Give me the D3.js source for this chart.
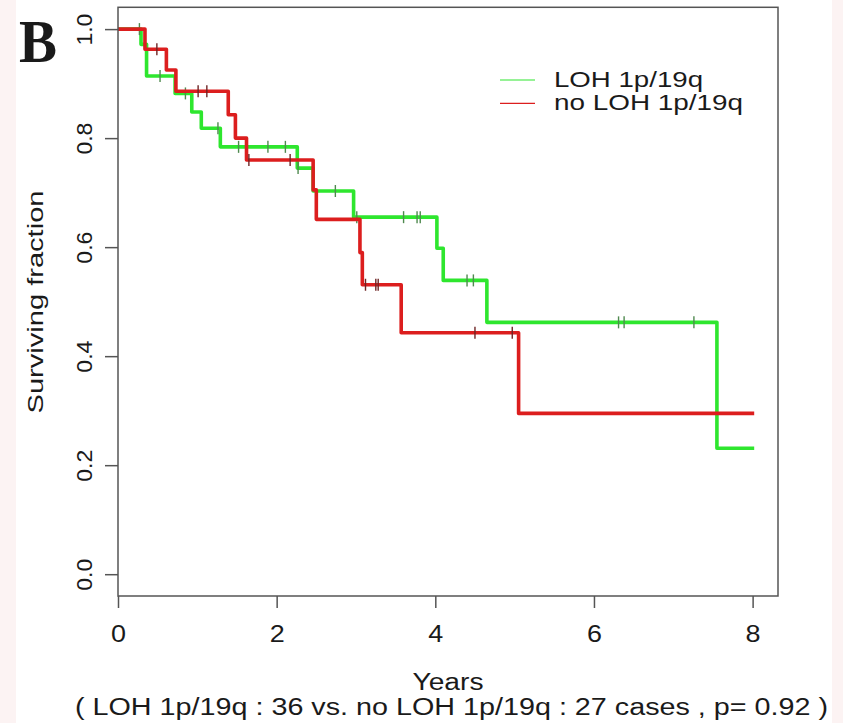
<!DOCTYPE html>
<html>
<head>
<meta charset="utf-8">
<script src="https://cdn.jsdelivr.net/npm/d3@7"></script>
<style>
  body { margin: 0; background: #fff; }
  svg { display: block; }
  text { font-family: "Liberation Sans", Arial, sans-serif; fill: #1a1a1a; }
</style>
</head>
<body>
<script>
// Kaplan-Meier steps
const lohTimes = [0.29, 0.36, 0.72, 0.93, 1.05, 1.29, 2.26, 2.46, 2.97, 4.02, 4.10, 4.65, 7.55]
const lohSurv = [0.972, 0.914, 0.882, 0.848, 0.818, 0.784, 0.745, 0.703, 0.655, 0.598, 0.539, 0.462, 0.231]
const lohCensor = [0.27, 0.53, 0.85, 1.26, 1.52, 1.89, 2.11, 2.27, 2.74, 3.01, 3.60, 3.77, 3.81, 4.40, 4.48, 6.31, 6.38, 7.26]

const noLohTimes = [0.34, 0.61, 0.73, 1.39, 1.48, 1.62, 2.46, 2.50, 3.05, 3.08, 3.57, 5.05]
const noLohSurv = [0.963, 0.925, 0.886, 0.843, 0.80, 0.76, 0.705, 0.651, 0.59, 0.531, 0.443, 0.295]
const noLohCensor = [0.49, 1.01, 1.12, 1.65, 2.17, 3.12, 3.25, 3.28, 4.50, 4.97]

const endTime = 8.02
const xTicks = [0, 2, 4, 6, 8]
const yTicks = [0, 0.2, 0.4, 0.6, 0.8, 1.0]
const legendLabels = ['LOH 1p/19q', 'no LOH 1p/19q']
const subtitle = '( LOH 1p/19q : 36 vs. no LOH 1p/19q : 27 cases , p= 0.92 )'

const W = 843, H = 723
const box = { left: 118, right: 778, top: 7.3, bottom: 596 }

const svg = d3.select('body').append('svg').attr('width', W).attr('height', H)

// faint pink edges of the scanned figure
svg.append('rect').attr('width', W).attr('height', H).attr('fill', '#fcf3f3')
svg.append('rect').attr('x', 16).attr('width', 816).attr('height', H).attr('fill', '#fff')

const x = d3.scaleLinear().domain([0, 8.32]).range([box.left, box.right])
const y = d3.scaleLinear().domain([-0.04, 1.04]).range([box.bottom, box.top])

function steps(times, surv) {
  const pts = [[0, 1]]
  times.forEach((t, i) => pts.push([t, surv[i]]))
  pts.push([endTime, surv[surv.length - 1]])
  return pts
}
function survAt(times, surv, t) {
  let s = 1
  times.forEach((tt, i) => { if (tt <= t) s = surv[i] })
  return s
}

const line = d3.line().x(d => x(d[0])).y(d => y(d[1])).curve(d3.curveStepAfter)

const series = [
  { times: lohTimes, surv: lohSurv, censor: lohCensor, color: '#2ee62e', tick: '#4f8a4f' },
  { times: noLohTimes, surv: noLohSurv, censor: noLohCensor, color: '#dc1e1e', tick: '#6e2424' }
]

series.forEach(s => {
  svg.append('path')
    .attr('d', line(steps(s.times, s.surv)))
    .attr('fill', 'none')
    .attr('stroke', s.color)
    .attr('stroke-width', 3.6)
    .attr('stroke-linejoin', 'round')
  svg.append('g').selectAll('line')
    .data(s.censor)
    .join('line')
    .attr('x1', d => x(d)).attr('x2', d => x(d))
    .attr('y1', d => y(survAt(s.times, s.surv, d)) - 6)
    .attr('y2', d => y(survAt(s.times, s.surv, d)) + 6)
    .attr('stroke', s.tick)
    .attr('stroke-width', 1.4)
})

// box
svg.append('rect')
  .attr('x', box.left).attr('y', box.top)
  .attr('width', box.right - box.left).attr('height', box.bottom - box.top)
  .attr('fill', 'none').attr('stroke', '#555').attr('stroke-width', 1.5)

// y axis
const yAxis = svg.append('g')
  .attr('transform', `translate(${box.left},0)`)
  .call(d3.axisLeft(y).tickValues(yTicks).tickSize(13).tickFormat(d3.format('.1f')))
yAxis.select('.domain').remove()
yAxis.selectAll('line').attr('stroke', '#555').attr('stroke-width', 1.5)
yAxis.selectAll('text')
  .attr('transform', 'rotate(-90)')
  .attr('x', 0).attr('y', -26).attr('dy', 0)
  .attr('text-anchor', 'middle')
  .attr('font-size', 22)
  .attr('textLength', 32).attr('lengthAdjust', 'spacingAndGlyphs')
  .style('font-family', '"Liberation Sans", Arial, sans-serif')
  .attr('fill', '#1a1a1a')

// x axis
const xAxis = svg.append('g')
  .attr('transform', `translate(0,${box.bottom})`)
  .call(d3.axisBottom(x).tickValues(xTicks).tickSize(12).tickFormat(d3.format('d')))
xAxis.select('.domain').remove()
xAxis.selectAll('line').attr('stroke', '#555').attr('stroke-width', 1.5)
xAxis.selectAll('text')
  .attr('y', 46).attr('dy', 0)
  .attr('font-size', 23)
  .attr('textLength', 15).attr('lengthAdjust', 'spacingAndGlyphs')
  .style('font-family', '"Liberation Sans", Arial, sans-serif')
  .attr('fill', '#1a1a1a')

// axis titles
svg.append('text')
  .attr('transform', 'translate(43,302) rotate(-90)')
  .attr('text-anchor', 'middle')
  .attr('font-size', 22)
  .attr('textLength', 223).attr('lengthAdjust', 'spacingAndGlyphs')
  .text('Surviving fraction')

svg.append('text')
  .attr('x', 448).attr('y', 690)
  .attr('text-anchor', 'middle')
  .attr('font-size', 23)
  .attr('textLength', 71).attr('lengthAdjust', 'spacingAndGlyphs')
  .text('Years')

svg.append('text')
  .attr('x', 75).attr('y', 715)
  .attr('font-size', 23)
  .attr('textLength', 753).attr('lengthAdjust', 'spacingAndGlyphs')
  .text(subtitle)

// legend
const legend = svg.append('g')
legend.selectAll('line')
  .data(series)
  .join('line')
  .attr('x1', 500).attr('x2', 535)
  .attr('y1', (d, i) => 80 + i * 23.3).attr('y2', (d, i) => 80 + i * 23.3)
  .attr('stroke', d => d.color).attr('stroke-width', 1.2)
legend.selectAll('text')
  .data(legendLabels)
  .join('text')
  .attr('x', 554)
  .attr('y', (d, i) => 87 + i * 23.3)
  .attr('font-size', 22)
  .attr('textLength', (d, i) => i === 0 ? 149 : 189)
  .attr('lengthAdjust', 'spacingAndGlyphs')
  .text(d => d)

// panel letter
svg.append('text')
  .attr('x', 19).attr('y', 62)
  .style('font-family', '"Liberation Serif", "Times New Roman", serif')
  .attr('font-weight', 'bold')
  .attr('font-size', 62)
  .attr('textLength', 38).attr('lengthAdjust', 'spacingAndGlyphs')
  .attr('fill', '#000')
  .text('B')
</script>
</body>
</html>
